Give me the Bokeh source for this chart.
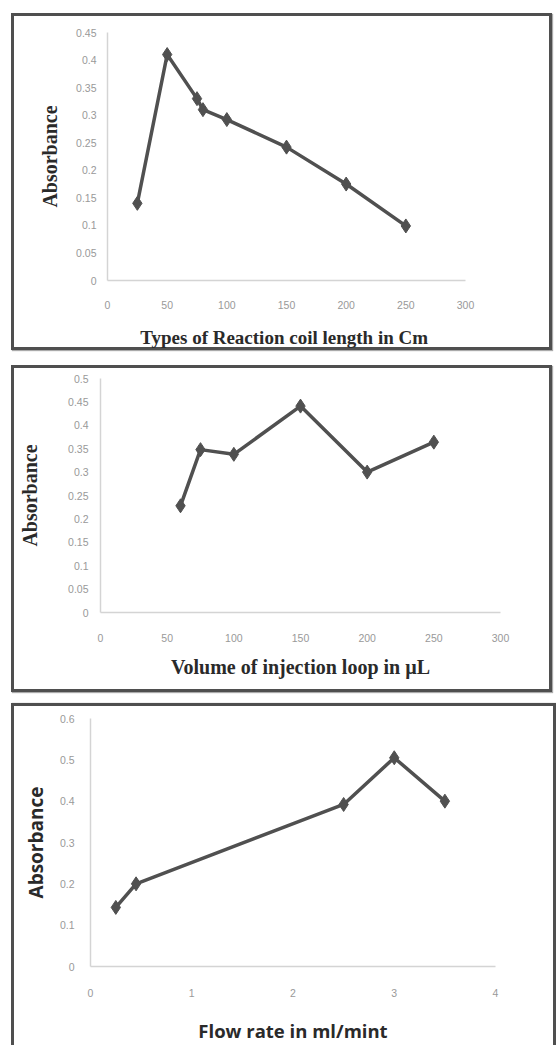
from bokeh.plotting import figure
from bokeh.models import Range1d, FixedTicker
from bokeh.embed import file_html
from bokeh.resources import INLINE

# ---- data ----
coil_length = [25, 50, 75, 80, 100, 150, 200, 250]
coil_abs = [0.14, 0.41, 0.33, 0.31, 0.292, 0.242, 0.175, 0.099]

loop_volume = [60, 75, 100, 150, 200, 250]
loop_abs = [0.228, 0.348, 0.338, 0.441, 0.300, 0.364]

flow_rate = [0.25, 0.45, 2.5, 3.0, 3.5]
flow_abs = [0.143, 0.200, 0.392, 0.505, 0.400]

x1_ticks = [0, 50, 100, 150, 200, 250, 300]
y1_ticks = [0, 0.05, 0.1, 0.15, 0.2, 0.25, 0.3, 0.35, 0.4, 0.45]
y1_labels = ["0", "0.05", "0.1", "0.15", "0.2", "0.25", "0.3", "0.35", "0.4", "0.45"]

x2_ticks = [0, 50, 100, 150, 200, 250, 300]
y2_ticks = [0, 0.05, 0.1, 0.15, 0.2, 0.25, 0.3, 0.35, 0.4, 0.45, 0.5]
y2_labels = ["0", "0.05", "0.1", "0.15", "0.2", "0.25", "0.3", "0.35", "0.4", "0.45", "0.5"]

x3_ticks = [0, 1, 2, 3, 4]
y3_ticks = [0, 0.1, 0.2, 0.3, 0.4, 0.5, 0.6]
y3_labels = ["0", "0.1", "0.2", "0.3", "0.4", "0.5", "0.6"]

LINE = "#505050"
AXIS = "#d4d4d4"
TICK = "#999999"
FRAME = "#4f4f4f"


def panel(x, y, xr, yr, xt, yt, ylab, xlab, title_font, ysize, xsize, w, h,
          mb, margin, ytick_so, xtick_so, ylab_so, xlab_so, shadow):
    p = figure(width=w, height=h, output_backend="svg", toolbar_location=None,
               x_range=Range1d(*xr), y_range=Range1d(*yr),
               min_border_left=mb[0], min_border_right=mb[1],
               min_border_top=mb[2], min_border_bottom=mb[3])
    p.margin = margin
    p.styles = {"background-color": "white", "box-shadow": shadow}
    p.background_fill_alpha = 0
    p.border_fill_alpha = 0
    p.outline_line_color = None
    p.xgrid.visible = False
    p.ygrid.visible = False
    p.xaxis.ticker = FixedTicker(ticks=xt)
    p.yaxis.ticker = FixedTicker(ticks=yt[0])
    p.yaxis.major_label_overrides = dict(zip(yt[0], yt[1]))
    for ax in (p.xaxis[0], p.yaxis[0]):
        ax.axis_line_color = AXIS
        ax.axis_line_width = 1.5
        ax.major_tick_line_color = None
        ax.minor_tick_line_color = None
        ax.major_label_text_color = TICK
        ax.major_label_text_font = "Liberation Sans"
        ax.major_label_text_font_size = "10.5px"
        ax.axis_label_text_font = title_font
        ax.axis_label_text_font_style = "bold"
        ax.axis_label_text_color = "#2a2a2a"
    p.yaxis.axis_label_text_font_size = ysize
    p.xaxis.axis_label_text_font_size = xsize
    p.xaxis.major_label_standoff = xtick_so
    p.yaxis.major_label_standoff = ytick_so
    p.yaxis.axis_label = ylab
    p.xaxis.axis_label = xlab
    p.yaxis.axis_label_standoff = ylab_so
    p.xaxis.axis_label_standoff = xlab_so
    p.line(x, y, line_color=LINE, line_width=3.5, line_join="round")
    p.scatter(x, y, marker="diamond", size=14, fill_color=LINE, line_color=LINE)
    return p


full = "inset 0 0 0 3px " + FRAME + ", 1px 1px 1px #aaa"
open_bottom = ("inset 3px 3px 0 0 " + FRAME + ", inset -3px 0 0 0 " + FRAME
               + ", 1px 0 1px #aaa")

p1 = panel(coil_length, coil_abs, (0, 300), (0, 0.45), x1_ticks, (y1_ticks, y1_labels),
           "Absorbance", "Types of Reaction coil  length in Cm",
           "Liberation Serif", "20px", "19px", 541, 337, (96, 87, 19, 68), (13, 0, 0, 11),
           5, 14, 12, 15, full)
p2 = panel(loop_volume, loop_abs, (0, 300), (0, 0.5), x2_ticks, (y2_ticks, y2_labels),
           "Absorbance", "Volume of injection loop in µL",
           "Liberation Serif", "20px", "20px", 541, 327, (89, 52, 13, 80), (15, 0, 0, 11),
           6, 15, 24, 11, full)
p3 = panel(flow_rate, flow_abs, (0, 4), (0, 0.6), x3_ticks, (y3_ticks, y3_labels),
           "Absorbance", "Flow rate in ml/mint",
           "Open Sans", "19px", "18.5px", 545, 342, (79, 61, 15, 74), (11, 0, 0, 11),
           10, 16, 8, 18, open_bottom)

html = file_html([p1, p2, p3], INLINE)
html = html.replace("<head>", "<head><style>body{margin:0;}</style>", 1)
open("out.html", "w").write(html)
